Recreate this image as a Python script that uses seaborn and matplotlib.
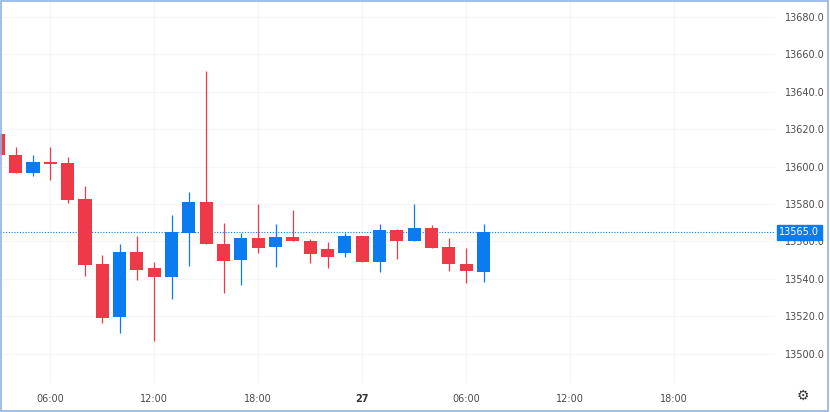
import numpy as np
import pandas as pd
import matplotlib
matplotlib.use("Agg")
import matplotlib.pyplot as plt
from matplotlib.patches import Rectangle
import seaborn as sns

# hourly candles, hours counted from day 26 00:00
hours = list(range(3, 32))
opens = [13617.5, 13606.5, 13596.5, 13602.5, 13602.0, 13582.5, 13548.0, 13519.5, 13554.5, 13546.0,
         13541.0, 13564.5, 13581.0, 13558.5, 13550.0, 13562.0, 13557.0, 13562.5, 13560.5, 13556.0,
         13554.0, 13563.0, 13549.0, 13566.0, 13560.5, 13567.0, 13557.0, 13548.0, 13543.5]
closes = [13606.0, 13596.5, 13602.5, 13601.5, 13582.0, 13547.5, 13519.0, 13554.5, 13545.0, 13541.0,
          13565.0, 13581.0, 13558.5, 13549.5, 13562.0, 13556.5, 13562.5, 13560.0, 13553.5, 13551.5,
          13563.0, 13549.0, 13566.0, 13560.5, 13567.0, 13556.5, 13548.0, 13544.0, 13565.0]
highs = [13618.0, 13610.5, 13606.0, 13610.5, 13605.0, 13589.5, 13552.5, 13558.5, 13563.0, 13549.0,
         13574.0, 13586.5, 13651.0, 13570.0, 13564.5, 13580.0, 13569.5, 13577.0, 13561.5, 13559.5,
         13564.5, 13563.0, 13569.5, 13566.5, 13580.0, 13569.0, 13562.0, 13556.5, 13569.5]
lows = [13606.0, 13596.5, 13595.0, 13593.0, 13580.5, 13541.5, 13516.5, 13511.0, 13539.5, 13506.5,
        13529.0, 13547.0, 13558.5, 13532.5, 13536.5, 13554.0, 13546.5, 13560.0, 13548.5, 13546.0,
        13551.5, 13549.0, 13543.5, 13550.5, 13560.5, 13556.5, 13544.0, 13538.0, 13538.5]

price_ticks = [13500, 13520, 13540, 13560, 13580, 13600, 13620, 13640, 13660, 13680]
time_ticks = [6, 12, 18, 24, 30, 36, 42]
time_labels = ["06:00", "12:00", "18:00", "27", "06:00", "12:00", "18:00"]
last_price = 13565.0

df = pd.DataFrame({"hour": hours, "open": opens, "close": closes, "high": highs, "low": lows})
df["up"] = df["close"] >= df["open"]

sns.set_theme(style="white")
plt.rcParams["font.family"] = ["DejaVu Sans"]

UP = "#0b7cf0"
DOWN = "#ee3a48"

fig = plt.figure(figsize=(8.30, 4.12), dpi=100)
ax = fig.add_axes([0.0, 29 / 412, 775 / 830, 382 / 412])

colors = np.where(df["up"], UP, DOWN)
ax.vlines(df["hour"], df["low"], df["high"], colors=colors, linewidth=0.9, zorder=3)
ax.bar(df["hour"], (df["close"] - df["open"]).abs(), bottom=df[["open", "close"]].min(axis=1),
       width=0.76, color=colors, linewidth=0, zorder=4)

ax.set_xlim(3.10, 47.82)
ax.set_ylim(13484.3, 13688.6)

ax.set_yticks(price_ticks)
ax.set_yticklabels([f"{p:.1f}" for p in price_ticks])
ax.yaxis.tick_right()
ax.set_xticks(time_ticks)
ax.set_xticklabels(time_labels)
ax.tick_params(axis="y", length=0, pad=7, labelsize=7, labelcolor="#4a4a4a")
ax.tick_params(axis="x", length=0, pad=8, labelsize=7, labelcolor="#4a4a4a")
for lab in ax.get_xticklabels():
    if lab.get_text() == "27":
        lab.set_fontweight("bold")
        lab.set_color("#333333")

ax.grid(True, color="#f5f6f8", linewidth=1.0)
ax.set_axisbelow(True)
for s in ax.spines.values():
    s.set_visible(False)

# last price line and label
ax.axhline(last_price, color=UP, linestyle=(0, (1, 1.5)), linewidth=0.8, zorder=2)
ax.annotate(f"{last_price:.1f}", xy=(1.0, last_price), xycoords=("axes fraction", "data"),
            xytext=(3, 0), textcoords="offset points", ha="left", va="center",
            fontsize=7, color="white", zorder=10, annotation_clip=False,
            bbox=dict(boxstyle="square,pad=0.25", fc=UP, ec=UP))

# settings gear
fig.text(803 / 830, 1 - 396 / 412, "\u2699", ha="center", va="center", fontsize=10, color="#333333")

# outer frame
fig.patches.append(Rectangle((0.001, 0.002), 0.997, 0.995, transform=fig.transFigure,
                             fill=False, edgecolor="#8fb3e6", linewidth=1.2))

fig.savefig("out.png", dpi=100)
